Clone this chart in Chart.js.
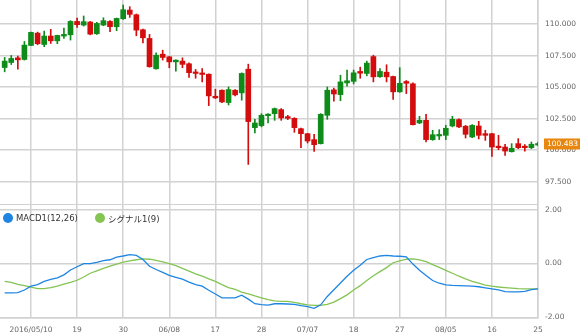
<!DOCTYPE html>
<html>
<head>
<meta charset="utf-8">
<script src="https://cdn.jsdelivr.net/npm/chart.js@4.4.1/dist/chart.umd.min.js"></script>
<style>
  html, body { margin: 0; padding: 0; background: #fff; }
  #wrap { position: relative; width: 580px; height: 336px; overflow: hidden; }
  #price { position: absolute; left: 0; top: 0; }
  #macd { position: absolute; left: 0; top: 205px; }
  .legend { position: absolute; top: 213px; height: 10px; display: flex; align-items: center;
            font: 8.5px 'DejaVu Sans', 'Noto Sans CJK JP', sans-serif; color: #333; white-space: nowrap; }
  .legend i { display: inline-block; width: 10px; height: 10px; border-radius: 50%; margin-right: 3px; }
</style>
</head>
<body>
<div id="wrap">
  <canvas id="price" width="580" height="205"></canvas>
  <canvas id="macd" width="580" height="131"></canvas>
</div>
<script>
// daily candles, 2016/05/04 .. 2016/08/25 (one entry per trading day)
const opens = [
  106.55, 106.95, 107.32, 107.19, 108.30, 109.28, 108.38, 109.05, 108.67, 109.05,
  109.15, 110.21, 109.92, 110.16, 109.23, 109.92, 110.21, 109.79, 110.42, 111.11,
  110.74, 109.55, 108.86, 106.45, 107.61, 107.40, 107.00, 107.06, 106.85, 106.20,
  106.08, 106.02, 104.27, 104.75, 103.77, 104.75, 104.54, 106.42, 101.78, 101.94,
  102.73, 102.89, 103.21, 102.65, 102.52, 101.70, 101.30, 100.83, 100.51, 102.76,
  104.78, 104.40, 105.33, 105.45, 106.24, 106.08, 107.42, 105.82, 106.18, 105.84,
  104.62, 105.44, 105.26, 102.15, 102.36, 100.83, 101.12, 101.17, 101.91, 102.42,
  101.89, 101.04, 101.91, 101.30, 101.30, 100.30, 100.24, 99.87, 100.51, 100.30,
  100.19, 100.40
];
const highs = [
  107.35, 107.51, 107.45, 108.62, 109.36, 109.36, 109.44, 109.58, 109.12, 109.68,
  110.27, 110.48, 110.64, 110.21, 110.13, 110.50, 110.27, 110.48, 111.51, 111.38,
  110.80, 109.60, 109.18, 107.72, 107.93, 107.43, 107.16, 107.32, 106.92, 106.40,
  106.47, 106.05, 104.83, 104.78, 105.01, 104.80, 106.13, 106.82, 102.44, 102.89,
  102.89, 103.34, 103.29, 102.76, 102.57, 101.75, 101.33, 101.25, 102.89, 105.01,
  104.92, 105.94, 106.34, 106.35, 106.58, 107.06, 107.53, 106.47, 106.77, 105.88,
  106.54, 105.52, 105.33, 102.68, 102.84, 101.57, 101.62, 101.96, 102.68, 102.47,
  101.96, 102.02, 102.28, 101.57, 101.33, 101.17, 100.46, 100.51, 100.91, 100.43,
  100.64, 100.64
];
const lows = [
  106.21, 106.79, 106.42, 107.14, 108.28, 108.36, 108.20, 108.46, 108.44, 108.86,
  108.73, 109.73, 109.84, 109.15, 109.18, 109.87, 109.39, 109.47, 110.37, 110.53,
  109.07, 108.51, 106.58, 106.42, 107.14, 106.53, 106.26, 106.53, 105.76, 105.70,
  105.41, 103.53, 104.09, 103.77, 103.58, 104.30, 103.96, 98.86, 101.36, 101.84,
  102.15, 102.36, 102.36, 102.42, 101.41, 100.19, 100.56, 99.89, 100.48, 102.44,
  103.88, 103.92, 105.07, 105.25, 105.70, 105.89, 105.41, 105.76, 105.41, 104.01,
  104.58, 104.48, 101.99, 102.10, 100.64, 100.77, 100.83, 100.83, 101.84, 101.78,
  100.96, 100.99, 100.88, 100.77, 99.50, 100.03, 99.58, 99.84, 100.11, 99.92,
  100.11, 100.35
];
const closes = [
  107.06, 107.27, 107.16, 108.33, 109.34, 108.44, 109.05, 108.67, 109.10, 109.18,
  110.21, 109.95, 110.19, 109.20, 110.05, 110.27, 109.79, 110.45, 111.14, 110.77,
  109.52, 108.91, 106.61, 107.53, 107.35, 107.00, 107.14, 106.80, 106.14, 106.08,
  106.00, 104.30, 104.14, 103.82, 104.80, 104.38, 106.08, 102.26, 102.15, 102.76,
  102.84, 103.29, 102.55, 102.52, 101.78, 101.30, 100.72, 100.43, 102.84, 104.75,
  104.45, 105.41, 105.50, 106.13, 106.10, 106.90, 105.81, 106.24, 105.81, 104.62,
  105.30, 105.30, 102.01, 102.36, 100.83, 101.22, 101.22, 101.73, 102.44, 101.84,
  101.25, 101.96, 101.17, 101.17, 100.24, 100.19, 99.92, 100.14, 100.19, 100.19,
  100.46, 100.483
];

// MACD(12,26) and its 9-day signal
const macdLine = [
  -1.09, -1.09, -1.08, -0.98, -0.84, -0.78, -0.66, -0.59, -0.53, -0.42,
  -0.24, -0.12, 0.00, 0.00, 0.04, 0.11, 0.14, 0.24, 0.28, 0.33,
  0.30, 0.15, -0.10, -0.22, -0.33, -0.44, -0.51, -0.58, -0.69, -0.78,
  -0.84, -0.99, -1.13, -1.27, -1.27, -1.27, -1.17, -1.32, -1.49, -1.52,
  -1.54, -1.49, -1.49, -1.50, -1.51, -1.56, -1.60, -1.66, -1.53, -1.22,
  -0.97, -0.72, -0.47, -0.25, -0.06, 0.15, 0.22, 0.28, 0.30, 0.28,
  0.27, 0.25, -0.02, -0.25, -0.44, -0.63, -0.73, -0.79, -0.81, -0.82,
  -0.83, -0.84, -0.86, -0.90, -0.94, -0.98, -1.04, -1.05, -1.05, -1.03,
  -0.97, -0.94
];
const signalLine = [
  -0.66, -0.70, -0.77, -0.82, -0.87, -0.93, -0.93, -0.89, -0.84, -0.76,
  -0.70, -0.62, -0.50, -0.36, -0.27, -0.18, -0.10, -0.02, 0.05, 0.10,
  0.14, 0.17, 0.16, 0.12, 0.06, 0.00, -0.08, -0.18, -0.28, -0.38,
  -0.47, -0.57, -0.66, -0.78, -0.89, -0.96, -1.06, -1.12, -1.20, -1.27,
  -1.34, -1.38, -1.40, -1.40, -1.44, -1.49, -1.53, -1.55, -1.55, -1.51,
  -1.43, -1.30, -1.16, -0.98, -0.82, -0.63, -0.45, -0.30, -0.15, 0.03,
  0.10, 0.16, 0.17, 0.14, 0.07, -0.04, -0.14, -0.25, -0.36, -0.47,
  -0.57, -0.66, -0.73, -0.80, -0.84, -0.87, -0.89, -0.91, -0.93, -0.94,
  -0.94, -0.94
];

const tickIndex  = [4, 11, 18, 25, 32, 39, 46, 53, 60, 67, 74, 81];
const tickLabels = ['2016/05/10', '19', '30', '06/08', '17', '28', '07/07', '18', '27', '08/05', '16', '25'];
const priceTicks = [97.5, 100, 102.5, 105, 107.5, 110];
const macdTicks  = [-2, 0, 2];
const seriesNames = ['MACD1(12,26)', 'シグナル1(9)'];

const UP = '#0f8b1a';
const DOWN = '#d30d0d';
const MACD_COLOR = '#1e86e2';
const SIGNAL_COLOR = '#84c453';
const GRID = '#d2d2d2';
const X_MIN = -0.708;
const X_MAX = 81;

Chart.defaults.font.family = "'DejaVu Sans', sans-serif";
Chart.defaults.font.size = 7.5;
Chart.defaults.color = '#666';

const candleColors = closes.map((c, i) => c >= opens[i] ? UP : DOWN);

// labels may hang over the plot edges, so drop the padding Chart.js reserves for them
function noEdgePadding(axis) {
    axis.paddingTop = 0;
    axis.paddingBottom = 0;
    axis.paddingLeft = 0;
    axis.paddingRight = 0;
}

function sharedX(showLabels) {
    return {
        type: 'linear',
        min: X_MIN,
        max: X_MAX,
        offset: false,
        afterBuildTicks: axis => { axis.ticks = tickIndex.map(v => ({ value: v })); },
        afterFit: axis => {
            noEdgePadding(axis);
            if (showLabels) axis.height = 17;
        },
        grid: { color: GRID, lineWidth: 1.5, drawTicks: false, offset: false },
        border: { color: GRID, width: 1.5 },
        ticks: {
            display: showLabels,
            autoSkip: false,
            maxRotation: 0,
            padding: 8,
            callback: v => tickLabels[tickIndex.indexOf(v)]
        }
    };
}

function sideY(min, max, values, digits) {
    return {
        position: 'right',
        min: min,
        max: max,
        afterBuildTicks: axis => { axis.ticks = values.map(v => ({ value: v })); },
        afterFit: axis => { noEdgePadding(axis); axis.width = 42; },
        grid: { color: GRID, lineWidth: 1.5, drawTicks: false },
        border: { color: GRID, width: 1.5 },
        ticks: { padding: 7, callback: v => v.toFixed(digits) }
    };
}

// orange tag with the latest close on the price axis
const lastPriceTag = {
    id: 'lastPriceTag',
    afterDraw(chart) {
        const { ctx, chartArea, scales } = chart;
        const last = closes[closes.length - 1];
        const y = scales.y.getPixelForValue(last);
        ctx.save();
        ctx.fillStyle = '#e8870f';
        ctx.fillRect(chartArea.right + 6, y - 5.5, chart.width - chartArea.right - 6, 11);
        ctx.fillStyle = '#fff';
        ctx.font = "7.5px 'DejaVu Sans'";
        ctx.textBaseline = 'middle';
        ctx.fillText(last.toFixed(3), chartArea.right + 9, y + 0.5);
        ctx.restore();
    }
};

new Chart(document.getElementById('price'), {
    type: 'bar',
    data: {
        datasets: [
            {
                data: closes.map((c, i) => ({ x: i, y: [opens[i], c] })),
                backgroundColor: candleColors,
                barThickness: 5,
                minBarLength: 1.5,
                grouped: false
            },
            {
                data: highs.map((h, i) => ({ x: i, y: [lows[i], h] })),
                backgroundColor: candleColors,
                barThickness: 1,
                grouped: false
            }
        ]
    },
    options: {
        responsive: false,
        animation: false,
        layout: { padding: 0 },
        plugins: { legend: { display: false }, tooltip: { enabled: false } },
        scales: {
            x: sharedX(false),
            y: sideY(95.64, 111.91, priceTicks, 3)
        }
    },
    plugins: [lastPriceTag]
});

new Chart(document.getElementById('macd'), {
    type: 'line',
    data: {
        datasets: [
            {
                label: seriesNames[0],
                data: macdLine.map((v, i) => ({ x: i, y: v })),
                borderColor: MACD_COLOR,
                borderWidth: 1.3,
                pointRadius: 0,
                tension: 0
            },
            {
                label: seriesNames[1],
                data: signalLine.map((v, i) => ({ x: i, y: v })),
                borderColor: SIGNAL_COLOR,
                borderWidth: 1.3,
                pointRadius: 0,
                tension: 0
            }
        ]
    },
    options: {
        responsive: false,
        animation: false,
        layout: { padding: { top: 0, bottom: 1.5 } },
        plugins: { legend: { display: false }, tooltip: { enabled: false } },
        scales: {
            x: sharedX(true),
            y: sideY(-2, 2.17, macdTicks, 2)
        }
    }
});

// legend for the MACD panel
const wrap = document.getElementById('wrap');
[[3, MACD_COLOR], [95, SIGNAL_COLOR]].forEach(([left, color], k) => {
    const item = document.createElement('div');
    item.className = 'legend';
    item.style.left = left + 'px';
    item.innerHTML = '<i style="background:' + color + '"></i>' + seriesNames[k];
    wrap.appendChild(item);
});
</script>
</body>
</html>
